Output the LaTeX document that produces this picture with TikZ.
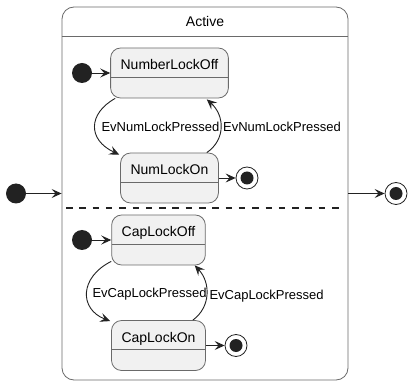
\documentclass[tikz,border=0pt]{standalone}
\usepackage{fontspec}
\setmainfont{Liberation Sans}
\usepackage{xcolor}
\usetikzlibrary{positioning, arrows.meta}

\definecolor{stfill}{HTML}{F1F1F1}
\definecolor{stline}{HTML}{6A6A6A}
\definecolor{ink}{HTML}{222222}

\begin{document}
\begin{tikzpicture}[x=1pt, y=1pt,
    comp/.style={draw=stline, rounded corners=12pt, line width=0.8pt, minimum width=286pt, inner sep=0pt, text height=20pt, text depth=353pt, font=\fontsize{14}{16}\selectfont},
    state/.style={draw=stline, fill=stfill, rounded corners=10pt, line width=0.8pt, inner xsep=10pt, inner ysep=0pt, text height=22pt, text depth=28pt, font=\fontsize{14}{16}\selectfont,
        path picture={\draw[stline, line width=0.8pt] ([yshift=-29pt]path picture bounding box.north west) -- ([yshift=-29pt]path picture bounding box.north east);}},
    init/.style={circle, fill=ink, minimum size=20pt, inner sep=0pt},
    final/.style={circle, draw=ink, fill=white, line width=0.8pt, minimum size=22pt, inner sep=0pt,
        path picture={\fill[ink] (path picture bounding box.center) circle (6.5pt);}},
    arr/.style={-{Stealth[length=10pt, width=9pt, inset=4pt]}, draw=ink, line width=0.9pt},
    lbl/.style={font=\fontsize{13}{15}\selectfont, inner sep=0pt}
]
\path[use as bounding box, fill=white] (0,0) rectangle (411,385);

% composite state
\node[comp] (act) at (205,191.5) {Active};
\draw[stline, line width=0.8pt] (act.west |- 0,349) -- (act.east |- 0,349);
\draw[ink, line width=1.1pt, dash pattern=on 6.5pt off 6.8pt] (66,177) -- (343,177);

% num lock region
\node[init] (start1) at (82,312) {};
\node[state] (numoff) at (169.5,312) {NumberLockOff};
\node[state] (numon) at (169.5,207) {NumLockOn};
\node[final] (end1) at (247,207) {};

% caps lock region
\node[init] (start2) at (82,145) {};
\node[state] (capoff) at (158.5,145) {CapLockOff};
\node[state] (capon) at (158.5,39.5) {CapLockOn};
\node[final] (end2) at (236,39.5) {};

% outer start / end
\node[init] (start0) at (16,191.5) {};
\node[final] (end0) at (396,191.5) {};

\draw[arr] (start0) -- (act.west);
\draw[arr] (act.east) -- (end0);

\draw[arr] (start1) -- (numoff.west);
\draw[arr] ([xshift=5pt]numoff.south west) .. controls +(-27,-15) and +(-32,15) .. ([xshift=-1pt, yshift=-2pt]numon.north west)
    node[lbl, midway, right=6pt] {EvNumLockPressed};
\draw[arr] ([xshift=-12pt]numon.north east) .. controls +(19,13) and +(18,-16) .. ([xshift=-22pt, yshift=-1pt]numoff.south east)
    node[lbl, midway, right=2pt] {EvNumLockPressed};
\draw[arr] (numon.east |- end1) -- (end1);

\draw[arr] (start2) -- (capoff.west);
\draw[arr] ([yshift=4pt]capoff.south west) .. controls +(-32,-16) and +(-31,12) .. ([xshift=-1pt, yshift=-1pt]capon.north west)
    node[lbl, midway, right=5pt, yshift=-1.5pt] {EvCapLockPressed};
\draw[arr] ([xshift=-13pt]capon.north east) .. controls +(18,13) and +(16,-17) .. ([xshift=-11pt]capoff.south east)
    node[lbl, midway, right=2.5pt, yshift=-1.5pt] {EvCapLockPressed};
\draw[arr] (capon.east) -- (end2);
\end{tikzpicture}
\end{document}
